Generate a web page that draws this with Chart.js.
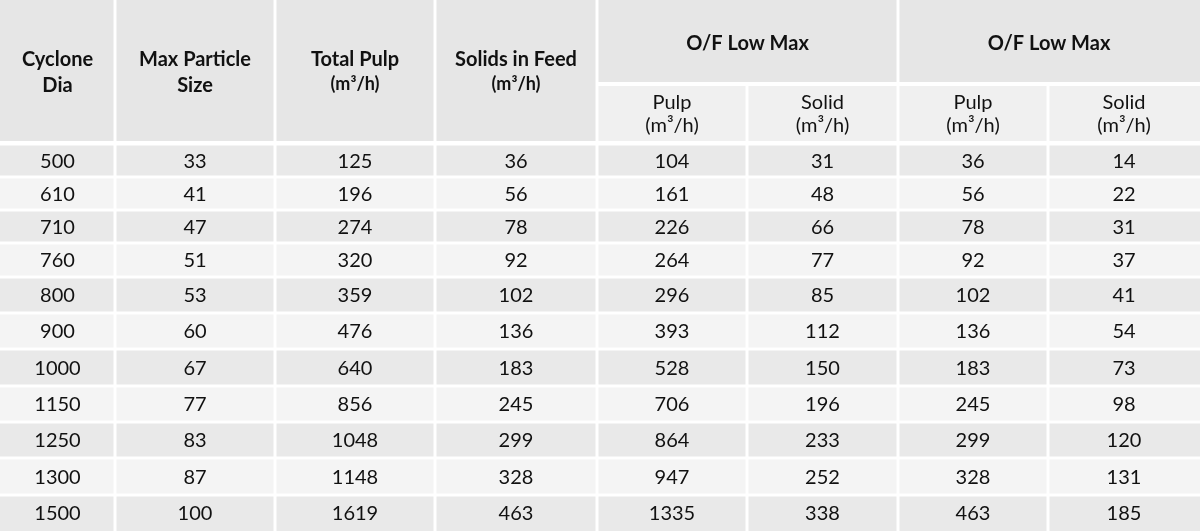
<!DOCTYPE html>
<html><head><meta charset="utf-8">
<script src="https://cdn.jsdelivr.net/npm/chart.js@4"></script>
<style>html,body{margin:0;padding:0;background:#fff}#w{width:1200px;height:531px}</style>
</head><body><div id="w"><canvas id="c"></canvas></div>
<script>
const cycloneDia=[500,610,710,760,800,900,1000,1150,1250,1300,1500];
const maxParticle=[33,41,47,51,53,60,67,77,83,87,100];
const totalPulp=[125,196,274,320,359,476,640,856,1048,1148,1619];
const solidsFeed=[36,56,78,92,102,136,183,245,299,328,463];
const ofPulp1=[104,161,226,264,296,393,528,706,864,947,1335];
const ofSolid1=[31,48,66,77,85,112,150,196,233,252,338];
const ofPulp2=[36,56,78,92,102,136,183,245,299,328,463];
const ofSolid2=[14,22,31,37,41,54,73,98,120,131,185];
const columns=[cycloneDia,maxParticle,totalPulp,solidsFeed,ofPulp1,ofSolid1,ofPulp2,ofSolid2];
const headers=[["Cyclone","Dia"],["Max Particle","Size"],["Total Pulp","(m³/h)"],["Solids in Feed","(m³/h)"]];
const groupHeaders=["O/F Low Max","O/F Low Max"];
const subHeaders=[["Pulp","(m³/h)"],["Solid","(m³/h)"]];
const colEdges=[0,115,275,435,597,747,898,1048,1200];
const rowEdges=[144,177,210,243,277,313,349,386,422,458,495,531];

const G=3;
const tablePlugin={id:'table',afterDatasetsDraw(chart){
  const ctx=chart.ctx,x=chart.scales.x,y=chart.scales.y;
  const X=v=>x.getPixelForValue(v),Y=v=>y.getPixelForValue(v);
  const rect=(x0,y0,x1,y1,c)=>{ctx.fillStyle=c;ctx.fillRect(X(x0),Y(y0),X(x1)-X(x0),Y(y1)-Y(y0));};
  const text=(t,cx,cy,font)=>{ctx.font=font;ctx.fillStyle='#111';ctx.textAlign='center';ctx.textBaseline='middle';ctx.fillText(t,X(cx),Y(cy));};
  const hb='bold 20px Lato', hr='20px Lato';
  for(let i=0;i<4;i++){
    const x0=colEdges[i]+(i?G/2:0),x1=colEdges[i+1]-G/2;
    rect(x0,0,x1,141,'#e6e6e6');
    const cx=(colEdges[i]+colEdges[i+1])/2;
    text(headers[i][0],cx,60,hb);
    text(headers[i][1],cx,i<2?86:84,i<2?hb:'bold 18px Lato');
  }
  for(let g=0;g<2;g++){
    const a=colEdges[4+2*g],b=colEdges[6+2*g];
    rect(a+G/2,0,b-(g?0:G/2),82,'#e6e6e6');
    text(groupHeaders[g],(a+b)/2,44,hb);
    for(let s=0;s<2;s++){
      const i=4+2*g+s,x0=colEdges[i]+G/2,x1=colEdges[i+1]-(i===7?0:G/2);
      rect(x0,86,x1,141,'#f0f0f0');
      const cx=(colEdges[i]+colEdges[i+1])/2;
      text(subHeaders[s][0],cx,103,hr);
      text(subHeaders[s][1],cx,126,hr);
    }
  }
  for(let r=0;r<cycloneDia.length;r++){
    const y0=rowEdges[r]+G/2,y1=rowEdges[r+1]-(r===cycloneDia.length-1?0:G/2);
    const col=r%2===0?'#e9e9e9':'#f4f4f4';
    for(let i=0;i<8;i++){
      const x0=colEdges[i]+(i?G/2:0),x1=colEdges[i+1]-(i===7?0:G/2);
      rect(x0,y0,x1,y1,col);
      text(String(columns[i][r]),(colEdges[i]+colEdges[i+1])/2,(rowEdges[r]+rowEdges[r+1])/2+1,hr);
    }
  }
}};
new Chart(document.getElementById('c'),{type:'scatter',data:{datasets:[{data:[]}]},
options:{responsive:true,maintainAspectRatio:false,animation:false,layout:{padding:0},
plugins:{legend:{display:false},tooltip:{enabled:false}},
scales:{x:{type:'linear',min:0,max:1200,display:false},y:{type:'linear',min:0,max:531,reverse:true,display:false}}},
plugins:[tablePlugin]});
</script></body></html>
